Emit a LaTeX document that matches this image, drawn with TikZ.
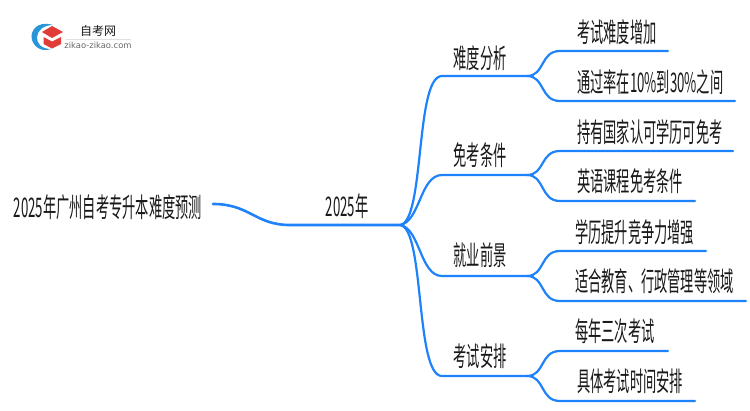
\documentclass[tikz,border=0pt]{standalone}
\usepackage{fontspec}
\usepackage{xcolor}
\usetikzlibrary{positioning}
\setmainfont{Noto Sans CJK SC}
\newfontfamily\logofont{DejaVu Sans}
\definecolor{branchblue}{RGB}{30, 130, 250}
\definecolor{hatred}{RGB}{225, 60, 55}
\definecolor{ringblue}{RGB}{40, 150, 215}
\definecolor{textdark}{RGB}{25, 25, 25}

\begin{document}
\begin{tikzpicture}[
    x=1pt, y=-1pt,
    label/.style={font=\fontsize{27}{27}\selectfont, text=textdark, inner sep=0pt, xscale=0.49, transform shape},
    leaf/.style={label, anchor=west},
    trunk/.style={branchblue, line width=2.6pt, line cap=round},
    branch/.style={branchblue, line width=2.2pt, line cap=round}
]
    \useasboundingbox (0,0) rectangle (750,410);

    % Logo
    \fill[ringblue] (53,25) .. controls (36,20) and (31,32) .. (31.5,37) .. controls (32,45) and (40,53) .. (51,49) .. controls (41,49) and (36.5,43) .. (37,37) .. controls (37.5,30) and (44,25) .. (53,25) -- cycle;
    \fill[hatred] (42,32) -- (52,26) -- (63,32) -- (52,38) -- cycle;
    \fill[hatred] (43.5,37) -- (52,41.5) -- (61,37) -- (61,44) -- (52,48.5) -- (43.5,44) -- cycle;
    \node[font=\fontsize{12}{12}\selectfont, text=textdark, inner sep=0pt] (logotitle) at (98,30.5) {自考网};
    \node[font=\fontsize{8.4}{8.4}\logofont, text=black!60, inner sep=0pt] (logourl) at (98,45) {zikao-zikao.com};
    \draw[black!12, line width=0.7pt] (66,39) -- (131,39);

    % Nodes - root and year
    \node[label] (root) at (108,207) {2025年广州自考专升本难度预测};
    \node[label] (year) at (347,206) {2025年};

    % Nodes - topics
    \node[label] (difficulty) at (480,58) {难度分析};
    \node[label] (exempt) at (480,155) {免考条件};
    \node[label] (career) at (480,255) {就业前景};
    \node[label] (schedule) at (480,356) {考试安排};

    % Nodes - leaves
    \node[leaf] (harder) at (577,32) {考试难度增加};
    \node[leaf] (passrate) at (577,82) {通过率在10\%到30\%之间};
    \node[leaf] (degree) at (577,132) {持有国家认可学历可免考};
    \node[leaf] (english) at (577,181) {英语课程免考条件};
    \node[leaf] (compete) at (575,232) {学历提升竞争力增强};
    \node[leaf] (fields) at (575,281) {适合教育、行政管理等领域};
    \node[leaf] (thrice) at (575,331) {每年三次考试};
    \node[leaf] (times) at (577,381) {具体考试时间安排};

    % Coordinates - line ends
    \coordinate (rootout) at (213,204);
    \coordinate (yearin) at (290,225);
    \coordinate (hub) at (400,225);
    \coordinate (difficultyin) at (442,76);
    \coordinate (difficultyout) at (527,76);
    \coordinate (exemptin) at (442,175);
    \coordinate (exemptout) at (527,175);
    \coordinate (careerin) at (442,276);
    \coordinate (careerout) at (527,276);
    \coordinate (schedulein) at (442,376);
    \coordinate (scheduleout) at (527,376);
    \coordinate (harderin) at (560,51);
    \coordinate (harderout) at (668,51);
    \coordinate (passratein) at (560,101);
    \coordinate (passrateout) at (735,101);
    \coordinate (degreein) at (560,151);
    \coordinate (degreeout) at (733,151);
    \coordinate (englishin) at (560,201);
    \coordinate (englishout) at (695,201);
    \coordinate (competein) at (560,251);
    \coordinate (competeout) at (706,251);
    \coordinate (fieldsin) at (560,301);
    \coordinate (fieldsout) at (746,301);
    \coordinate (thricein) at (560,351);
    \coordinate (thriceout) at (668,351);
    \coordinate (timesin) at (560,401);
    \coordinate (timesout) at (695,401);

    % Lines - trunk
    \draw[trunk] (rootout) .. controls (250,204) and (255,225) .. (yearin) -- (hub);

    % Lines - topics
    \draw[branch] (hub) .. controls (425,222) and (415,76) .. (difficultyin) -- (difficultyout);
    \draw[branch] (hub) .. controls (420,222) and (420,175) .. (exemptin) -- (exemptout);
    \draw[branch] (hub) .. controls (420,228) and (420,276) .. (careerin) -- (careerout);
    \draw[branch] (hub) .. controls (425,228) and (415,376) .. (schedulein) -- (scheduleout);

    % Lines - leaves
    \draw[branch] (difficultyout) .. controls (545,76) and (540,51) .. (harderin) -- (harderout);
    \draw[branch] (difficultyout) .. controls (545,76) and (540,101) .. (passratein) -- (passrateout);
    \draw[branch] (exemptout) .. controls (545,175) and (540,151) .. (degreein) -- (degreeout);
    \draw[branch] (exemptout) .. controls (545,175) and (540,201) .. (englishin) -- (englishout);
    \draw[branch] (careerout) .. controls (545,276) and (540,251) .. (competein) -- (competeout);
    \draw[branch] (careerout) .. controls (545,276) and (540,301) .. (fieldsin) -- (fieldsout);
    \draw[branch] (scheduleout) .. controls (545,376) and (540,351) .. (thricein) -- (thriceout);
    \draw[branch] (scheduleout) .. controls (545,376) and (540,401) .. (timesin) -- (timesout);
\end{tikzpicture}
\end{document}
